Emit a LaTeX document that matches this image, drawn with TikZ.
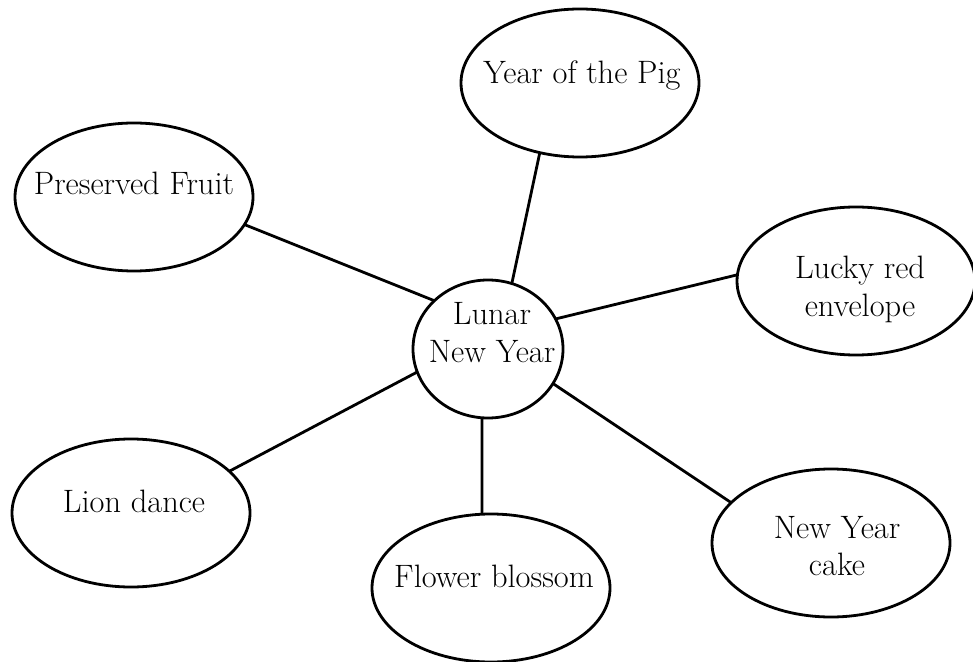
\documentclass[tikz,border=0pt]{standalone}
\usetikzlibrary{shapes.geometric}
\begin{document}
\begin{tikzpicture}[x=0.5pt,y=-0.5pt,
  bubble/.style={ellipse,draw,line width=1.4pt,inner sep=0pt,outer sep=0pt},
  topic/.style={bubble,minimum width=119pt,minimum height=74pt},
  hub/.style={bubble,minimum width=75pt,minimum height=69pt},
  caption/.style={inner sep=0pt,align=center,font=\fontsize{16.2}{18.5}\selectfont},
  spoke/.style={line width=1.4pt}]
\useasboundingbox (0,0) rectangle (973,662);

% shapes
\node[hub]   (hub)   at (488,349) {};
\node[topic] (pig)   at (580,83)  {};
\node[topic] (fruit) at (134,197) {};
\node[topic] (env)   at (856,281) {};
\node[topic] (lion)  at (131,513) {};
\node[topic] (flow)  at (491,588) {};
\node[topic] (cake)  at (831,543) {};

% labels
\node[caption,anchor=base] (hubt)   at (492,362) {Lunar\\New Year};
\node[caption,anchor=base] (pigt)   at (582,84)  {Year of the Pig};
\node[caption,anchor=base] (fruitt) at (134,195) {Preserved Fruit};
\node[caption,anchor=base] (envt)   at (860,316) {Lucky red\\envelope};
\node[caption,anchor=base] (liont)  at (134,512) {Lion dance};
\node[caption,anchor=base] (flowt)  at (494,587) {Flower blossom};
\node[caption,anchor=base] (caket)  at (837,575) {New Year\\cake};

% spokes
\draw[spoke] (hub.70.4)  -- (pig.240.9);
\draw[spoke] (hub.138.5) -- (fruit.346.7);
\draw[spoke] (hub.24.6)  -- (env.177.1);
\draw[spoke] (hub.198.2) -- (lion.23.4);
\draw[spoke] (hub.265)   -- (flow.97);
\draw[spoke] (hub.332.4) -- (cake.158.5);
\end{tikzpicture}
\end{document}
